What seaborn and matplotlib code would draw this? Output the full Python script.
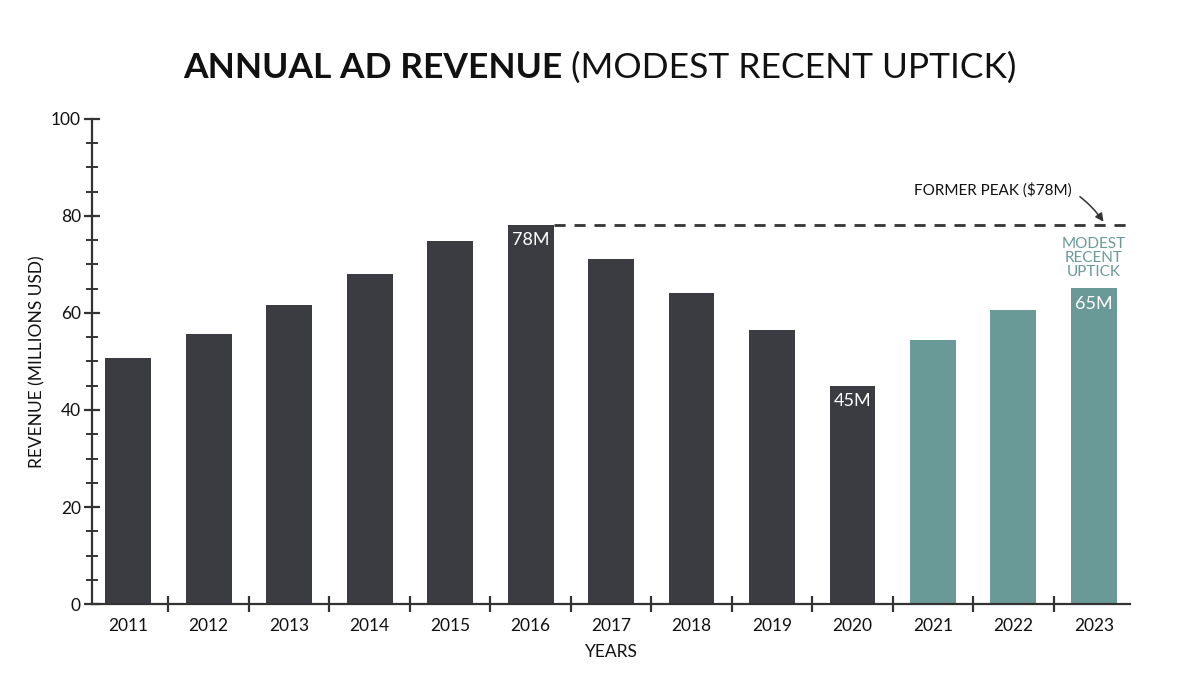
import matplotlib
matplotlib.use("Agg")
import matplotlib.pyplot as plt
from matplotlib.ticker import MultipleLocator, FixedLocator
import seaborn as sns
import pandas as pd

years = ["2011", "2012", "2013", "2014", "2015", "2016", "2017",
         "2018", "2019", "2020", "2021", "2022", "2023"]
revenue = [50.8, 55.6, 61.6, 68.0, 74.9, 78.2, 71.2, 64.1, 56.4, 45.0, 54.5, 60.6, 65.1]
period = ["past"] * 10 + ["recent"] * 3
labelled = {"2016": "78M", "2020": "45M", "2023": "65M"}
former_peak = 78.2

DARK = "#3a3c41"
TEAL = "#6a9a98"

sns.set_theme(style="white")
plt.rcParams["font.family"] = ["Lato", "DejaVu Sans"]

df = pd.DataFrame({"year": years, "revenue": revenue, "period": period})

fig = plt.figure(figsize=(12, 6.75), dpi=100)
ax = fig.add_axes([0.0767, 0.105, 0.865, 0.719])

sns.barplot(data=df, x="year", y="revenue", hue="period",
            palette={"past": DARK, "recent": TEAL}, dodge=False,
            width=0.57, legend=False, ax=ax, saturation=1,
            edgecolor="none")

ax.set_xlim(-0.45, len(years) - 0.55)
ax.set_ylim(0, 100)

for s in ["top", "right"]:
    ax.spines[s].set_visible(False)
for s in ["left", "bottom"]:
    ax.spines[s].set_color("#333333")
    ax.spines[s].set_linewidth(1.6)

ax.yaxis.set_major_locator(MultipleLocator(20))
ax.yaxis.set_minor_locator(MultipleLocator(5))
ax.tick_params(axis="y", which="major", direction="inout", length=12, width=1.6,
               color="#333333", labelsize=12.5, labelcolor="#111111", left=True, pad=2)
ax.tick_params(axis="y", which="minor", direction="inout", length=8, width=1.4,
               color="#333333", left=True)

ax.xaxis.set_minor_locator(FixedLocator([i + 0.5 for i in range(len(years) - 1)]))
ax.tick_params(axis="x", which="major", length=0, labelsize=12.5,
               labelcolor="#111111", pad=10)
ax.tick_params(axis="x", which="minor", direction="inout", length=12, width=1.6,
               color="#333333", bottom=True)

ax.set_xlabel("YEARS", fontsize=12.5, color="#111111", labelpad=7)
ax.set_ylabel("REVENUE (MILLIONS USD)", fontsize=12.5, color="#111111", labelpad=4)

# value labels
for i, y in enumerate(years):
    if y in labelled:
        ax.text(i, revenue[i] - 1.6, labelled[y], ha="center", va="top",
                color="white", fontsize=13)

# former peak line
i16 = years.index("2016")
ax.plot([i16 + 0.285, len(years) - 0.55], [former_peak, former_peak],
        color="#333333", lw=2, linestyle=(0, (4, 3.2)), zorder=3)

ax.annotate("FORMER PEAK ($78M)", xy=(12.12, former_peak + 0.6),
            xytext=(11.73, 85.3), ha="right", va="center", fontsize=11,
            color="#111111",
            arrowprops=dict(arrowstyle="-|>", color="#333333", lw=1.1,
                            connectionstyle="arc3,rad=-0.4",
                            shrinkA=4, shrinkB=0, mutation_scale=12))

ax.text(12, 71.3, "MODEST\nRECENT\nUPTICK", ha="center", va="center",
        color=TEAL, fontsize=11, linespacing=1.0)

t1 = fig.text(0, 0.900, "ANNUAL AD REVENUE ", ha="left", va="center",
              fontsize=25.5, fontweight="bold", color="#111111")
t2 = fig.text(0, 0.900, "(MODEST RECENT UPTICK)", ha="left", va="center",
              fontsize=25.5, color="#111111")
fig.canvas.draw()
r = fig.canvas.get_renderer()
w1 = t1.get_window_extent(r).width
w2 = t2.get_window_extent(r).width
W = fig.bbox.width
x0 = (W - w1 - w2) / 2
t1.set_x(x0 / W)
t2.set_x((x0 + w1) / W)

fig.savefig("out.png", dpi=100, facecolor="white")
